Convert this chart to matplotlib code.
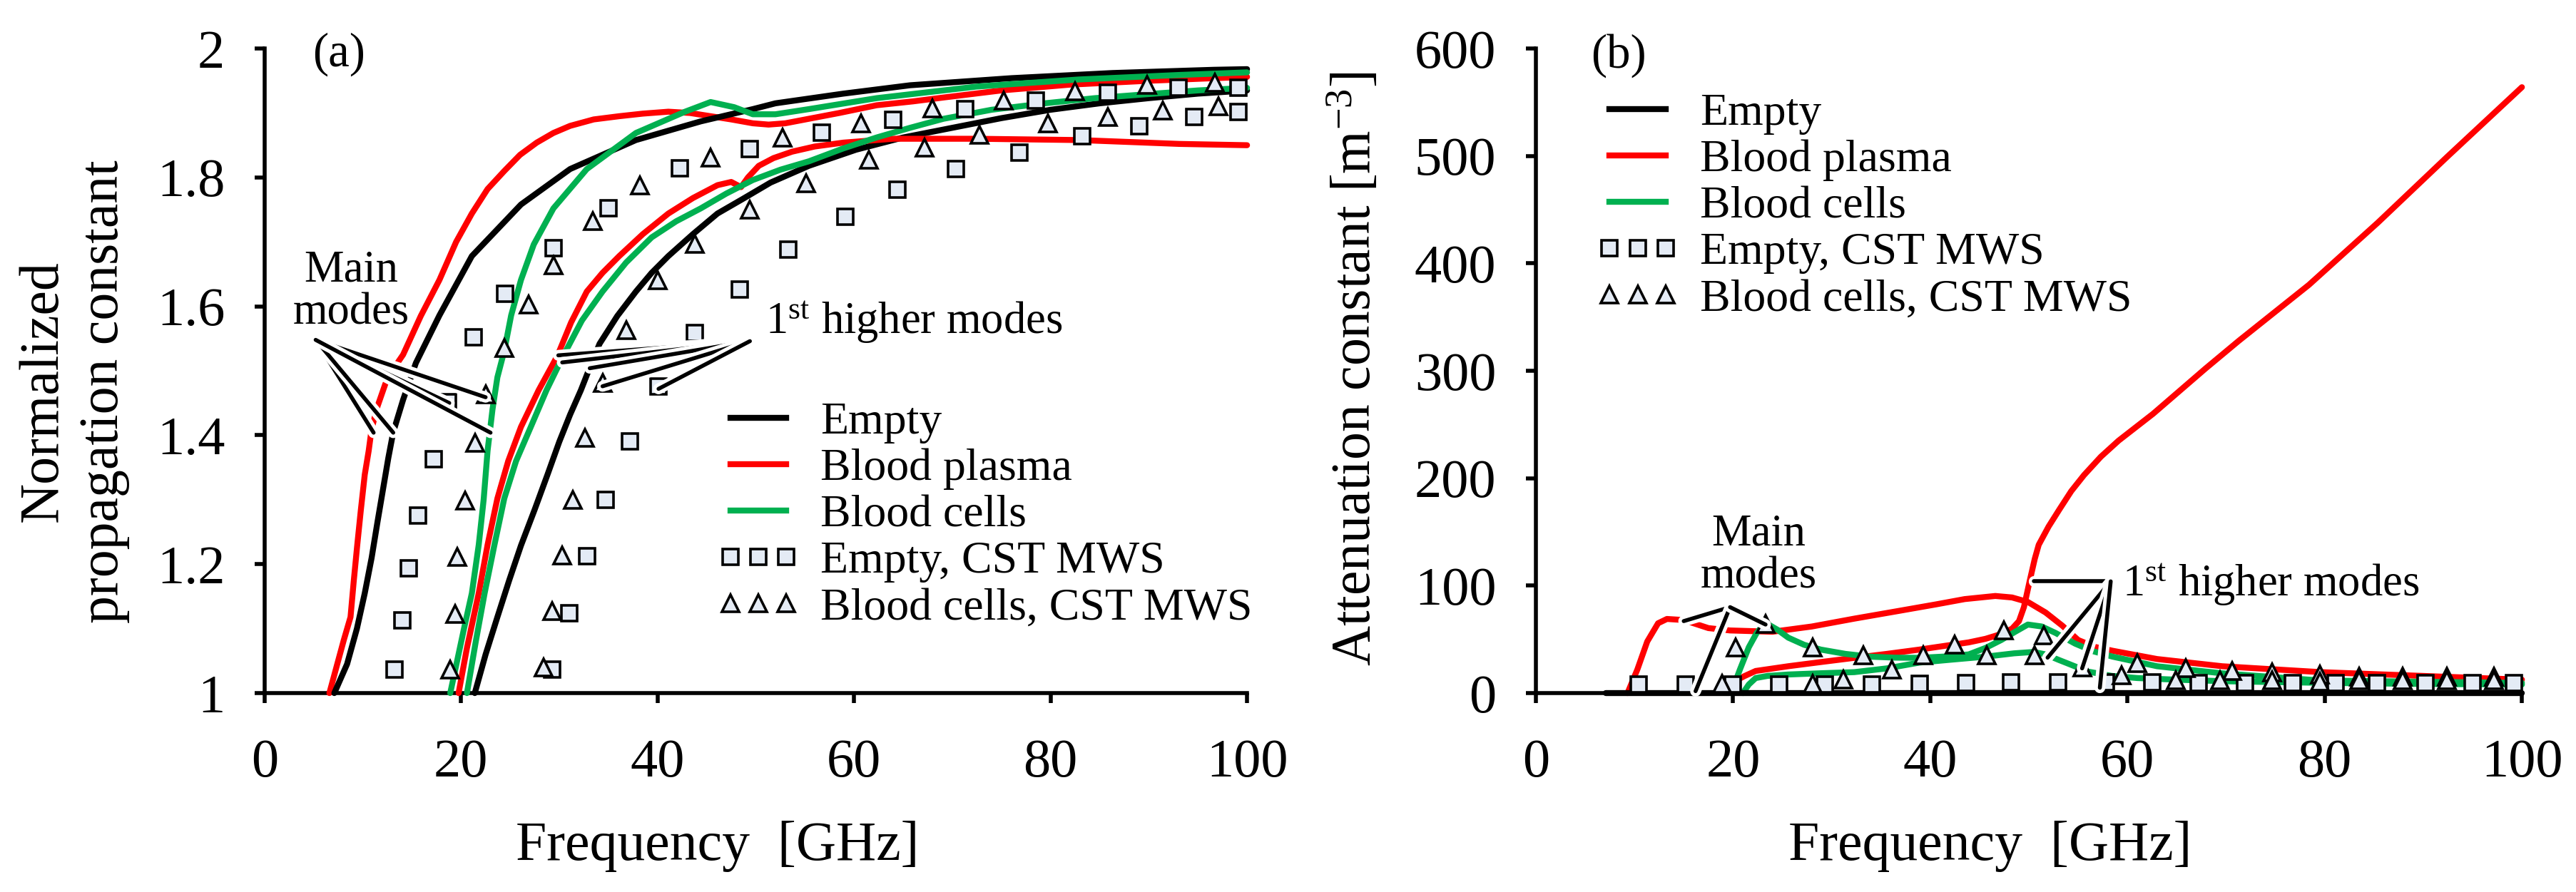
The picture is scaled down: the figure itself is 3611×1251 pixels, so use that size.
import matplotlib.pyplot as plt
import matplotlib.patheffects as pe
from matplotlib.lines import Line2D

plt.rcParams['font.family'] = ['Liberation Serif', 'DejaVu Serif']
plt.rcParams['mathtext.fontset'] = 'custom'
plt.rcParams['mathtext.rm'] = 'Liberation Serif'
plt.rcParams['mathtext.it'] = 'Liberation Serif:italic'

RED = '#FF0000'
GREEN = '#00B050'
FILL = '#E4EBF5'

# ---------------- (a) normalized propagation constant ----------------
# main modes
f_empty_main = [7.1, 8.4, 9.4, 10.2, 10.9, 11.5, 12.1, 12.6, 13.1, 14.1, 15.4, 17.8, 21.1, 26.1, 31.1, 37.8, 44.4, 49.7, 52.0, 58.9, 65.7, 76.0, 86.3, 96.6, 100]
b_empty_main = [1.0, 1.045, 1.1, 1.155, 1.21, 1.266, 1.32, 1.365, 1.405, 1.455, 1.512, 1.586, 1.678, 1.758, 1.813, 1.858, 1.887, 1.906, 1.915, 1.93, 1.943, 1.954, 1.962, 1.967, 1.968]
f_plasma_main = [6.6, 7.4, 8.06, 8.75, 9.08, 9.43, 9.8, 10.2, 10.6, 10.9, 11.5, 12.3, 13.2, 14.1, 15.9, 17.8, 19.5, 21.1, 22.7, 24.4, 26.0, 27.7, 29.4, 31.1, 33.5, 36.1, 38.5, 41.1, 43.3, 45.4, 47.5, 49.7, 51.3, 53.0, 55.4, 58.5, 62.3, 66.0, 69.1, 75.0, 82.0, 90.0, 100]
b_plasma_main = [1.0, 1.045, 1.082, 1.118, 1.174, 1.229, 1.284, 1.339, 1.376, 1.41, 1.445, 1.48, 1.505, 1.525, 1.585, 1.641, 1.70, 1.744, 1.782, 1.81, 1.835, 1.854, 1.869, 1.88, 1.89, 1.895, 1.899, 1.902, 1.90, 1.895, 1.89, 1.884, 1.882, 1.884, 1.891, 1.90, 1.912, 1.918, 1.924, 1.935, 1.944, 1.95, 1.956]
f_cells_main = [18.9, 19.6, 20.3, 21.1, 21.8, 22.3, 22.7, 23.2, 23.7, 24.4, 25.1, 26.1, 27.4, 29.4, 32.8, 37.8, 42.8, 45.4, 47.8, 49.7, 52.0, 55.4, 62.3, 72.5, 82.9, 93.1, 100]
b_cells_main = [1.0, 1.05, 1.10, 1.155, 1.23, 1.30, 1.376, 1.44, 1.49, 1.531, 1.586, 1.641, 1.696, 1.752, 1.813, 1.869, 1.902, 1.917, 1.909, 1.898, 1.898, 1.906, 1.923, 1.941, 1.952, 1.959, 1.963]
# 1st higher modes
f_empty_high = [21.4, 22.5, 23.7, 24.9, 26.1, 27.5, 28.8, 30.0, 31.1, 32.2, 33.1, 34.1, 35.9, 37.8, 39.4, 41.1, 43.6, 46.1, 48.6, 51.5, 55.4, 60.2, 65.0, 70.0, 75.0, 80.0, 85.0, 90.0, 95.0, 100]
b_empty_high = [1.0, 1.06, 1.118, 1.175, 1.229, 1.285, 1.339, 1.39, 1.432, 1.47, 1.505, 1.542, 1.585, 1.623, 1.652, 1.678, 1.712, 1.744, 1.766, 1.792, 1.818, 1.843, 1.862, 1.877, 1.892, 1.905, 1.915, 1.923, 1.93, 1.935]
f_plasma_high = [19.75, 20.6, 21.8, 22.7, 23.7, 24.8, 26.1, 27.9, 29.8, 31.2, 32.8, 34.4, 36.1, 38.5, 41.1, 43.6, 46.1, 47.5, 48.5, 49.2, 50.3, 51.8, 53.7, 56.0, 58.9, 64.0, 72.5, 82.9, 93.1, 100]
b_plasma_high = [1.0, 1.07, 1.155, 1.23, 1.302, 1.36, 1.413, 1.47, 1.523, 1.575, 1.623, 1.652, 1.678, 1.712, 1.744, 1.768, 1.788, 1.793, 1.785, 1.80, 1.818, 1.83, 1.84, 1.848, 1.854, 1.86, 1.86, 1.858, 1.852, 1.85]
f_cells_high = [20.6, 21.5, 22.4, 23.4, 24.4, 25.6, 27.1, 28.7, 30.4, 32.3, 34.4, 36.8, 39.4, 41.9, 44.4, 47.0, 49.7, 52.5, 55.4, 58.9, 62.3, 65.7, 69.1, 74.0, 79.4, 84.5, 89.7, 95.0, 100]
b_cells_high = [1.0, 1.08, 1.155, 1.23, 1.302, 1.36, 1.413, 1.47, 1.523, 1.578, 1.623, 1.668, 1.707, 1.732, 1.752, 1.775, 1.796, 1.812, 1.825, 1.845, 1.862, 1.877, 1.891, 1.905, 1.915, 1.923, 1.929, 1.935, 1.939]
# CST MWS points
sq_main_f = [13.2, 14.0, 14.7, 15.6, 17.2, 18.7, 21.3, 24.5, 29.4, 35.0, 42.3, 49.4, 56.7, 64.0, 71.3, 78.5, 85.8, 93.0, 99.1]
sq_main_b = [1.037, 1.113, 1.194, 1.276, 1.363, 1.451, 1.552, 1.619, 1.690, 1.752, 1.814, 1.844, 1.869, 1.889, 1.906, 1.919, 1.931, 1.939, 1.939]
sq_high_f = [29.3, 31.0, 32.8, 34.7, 37.2, 40.1, 43.8, 48.4, 53.3, 59.1, 64.4, 70.4, 76.8, 83.2, 89.0, 94.6, 99.1]
sq_high_b = [1.036, 1.124, 1.212, 1.300, 1.390, 1.476, 1.559, 1.626, 1.688, 1.739, 1.781, 1.813, 1.839, 1.864, 1.879, 1.894, 1.902]
tr_main_f = [18.9, 19.4, 19.6, 20.4, 21.4, 22.5, 24.4, 26.9, 29.4, 33.4, 38.2, 45.4, 52.7, 60.7, 68.0, 75.2, 82.5, 89.8, 96.7]
tr_main_b = [1.036, 1.123, 1.211, 1.299, 1.388, 1.463, 1.535, 1.603, 1.664, 1.732, 1.788, 1.831, 1.862, 1.884, 1.907, 1.919, 1.934, 1.944, 1.947]
tr_high_f = [28.4, 29.3, 30.3, 31.4, 32.6, 34.4, 36.8, 40.0, 43.8, 49.4, 55.1, 61.5, 67.2, 72.8, 79.7, 85.8, 91.4, 97.1]
tr_high_b = [1.04, 1.127, 1.214, 1.30, 1.396, 1.481, 1.563, 1.641, 1.697, 1.75, 1.791, 1.827, 1.846, 1.866, 1.884, 1.894, 1.904, 1.911]

# ---------------- (b) attenuation constant ----------------
fa_empty = [7.1, 100]
a_empty = [0, 0]
fa_plasma_main = [9.3, 10.3, 11.3, 12.4, 13.3, 15.0, 17.5, 19.7, 24.0, 28.0, 32.3, 36.5, 40.6, 43.5, 46.6, 48.3, 49.9, 51.7, 53.4, 55.0, 56.7, 58.5, 63.0, 69.6, 79.6, 89.6, 100]
a_plasma_main = [0, 22, 48, 65, 69, 68, 60.5, 58.3, 57.1, 62, 69.3, 76, 82.6, 87.5, 90.4, 89, 84.8, 75, 62.7, 49.4, 43, 39.4, 31.7, 25, 19.5, 16.1, 12.5]
fa_plasma_high = [20.3, 21.2, 22.3, 25.6, 29.0, 32.3, 35.6, 38.9, 41.5, 43.9, 45.6, 47.2, 48.3, 49.0, 49.5, 50.1, 50.6, 51.0, 52.0, 53.1, 54.3, 55.6, 57.3, 59.1, 62.6, 67.9, 71.3, 78.4, 85.4, 92.4, 100]
a_plasma_high = [11.7, 16, 20.6, 25, 29, 32.8, 36.5, 40.5, 44, 47.2, 50.5, 55, 60, 67, 80, 105, 125, 138, 155, 171, 188, 203, 220, 235, 260, 302, 328, 380, 438, 499, 564]
fa_cells_main = [19.8, 20.7, 21.6, 22.4, 23.0, 23.6, 24.5, 25.6, 27.2, 28.9, 31.4, 33.9, 36.4, 38.9, 41.4, 43.9, 45.6, 47.2, 48.6, 49.9, 51.3, 52.7, 54.7, 56.5, 58.5, 63.0, 69.6, 79.6, 89.6, 100]
a_cells_main = [0, 22, 42.7, 56, 62.7, 63.8, 59, 51.6, 45, 40.5, 36.5, 33.9, 33, 32.8, 34, 36, 42, 49.4, 57, 63.8, 62, 56, 46, 39, 33.9, 25, 18.4, 11.7, 10.6, 9.5]
fa_cells_high = [21.0, 21.6, 22.3, 23.5, 25.6, 29.0, 32.3, 35.6, 38.9, 42.0, 45.6, 48.5, 50.5, 51.7, 53.0, 54.1, 56.0, 58.4, 61.0, 64.9, 70.0, 80.0, 90.0, 100]
a_cells_high = [0, 8, 14, 16, 17.3, 18.5, 19.5, 23, 28.4, 31, 33.9, 37, 38.3, 36, 31, 27, 20, 16, 14, 12.5, 11, 9.5, 8.5, 8]
sqa_f = [10.4, 15.2, 20.0, 24.7, 29.3, 34.1, 38.9, 43.6, 48.2, 53.0, 57.8, 62.5, 67.2, 71.9, 76.8, 81.1, 85.3, 90.2, 95.0, 99.2]
sqa_a = [8, 8, 8, 8, 8, 8, 8.5, 9.5, 10, 10, 10, 10, 9, 9, 9, 9, 9, 9, 9, 9]
tra_main_f = [20.3, 23.3, 28.1, 33.2, 39.3, 42.5, 47.5, 51.5, 55.4, 61.0, 65.9, 70.6, 74.7, 79.5, 83.5, 87.9, 92.4, 97.2]
tra_main_a = [42.7, 64.5, 42.7, 35, 35, 45.4, 58.3, 53.8, 23.9, 27.7, 23.3, 20.6, 19.5, 17.3, 15, 15, 15, 15]
tra_high_f = [18.9, 28.1, 31.2, 36.1, 45.7, 50.6, 59.4, 64.9, 69.4, 74.7, 79.5, 83.5, 87.9, 92.4, 97.2]
tra_high_a = [8.4, 8.4, 12.8, 21.7, 35, 35, 16.6, 12.2, 12.2, 11.7, 10.6, 11.7, 11.7, 11.7, 11.7]

# callout lines: vertex, then the points they touch
main_a_vertex = (5.2, 1.548)
main_a_targets = [(11.1, 1.404), (13.1, 1.404), (18.8, 1.45), (22.5, 1.459), (23.0, 1.404)]
high_a_vertex = (49.4, 1.546)
high_a_targets = [(29.9, 1.524), (30.3, 1.513), (33.1, 1.504), (34.4, 1.476), (40.1, 1.472)]
main_b_vertex = (19.7, 80)
main_b_targets = [(15.0, 67), (16.2, 1.8), (23.3, 63.8)]
high_b_vertex = (58.3, 104)
high_b_targets = [(50.5, 104), (51.9, 33), (55.4, 23), (57.2, 5)]

LW = 6
halo = [pe.Stroke(linewidth=11, foreground='white'), pe.Normal()]

fig = plt.figure(figsize=(36.11, 12.51), dpi=100)
ax1 = fig.add_axes([0.1027, 0.2230, 0.3814, 0.7226])
ax2 = fig.add_axes([0.5962, 0.2230, 0.3828, 0.7226])


def curve(ax, x, y, c):
    ax.plot(x, y, color=c, lw=LW, solid_capstyle='round', solid_joinstyle='round', clip_on=False, zorder=2)


def points(ax, x, y, m, ms):
    ax.plot(x, y, linestyle='none', marker=m, ms=ms, mfc=FILL, mec='black', mew=2.6, clip_on=False, zorder=3)


def callout(ax, vertex, targets):
    for tx, ty in targets:
        ax.plot([vertex[0], tx], [vertex[1], ty], color='black', lw=4, solid_capstyle='round',
                clip_on=False, zorder=4, path_effects=halo)


# (a)
curve(ax1, f_plasma_main, b_plasma_main, RED)
curve(ax1, f_empty_main, b_empty_main, 'black')
curve(ax1, f_cells_main, b_cells_main, GREEN)
curve(ax1, f_empty_high, b_empty_high, 'black')
curve(ax1, f_plasma_high, b_plasma_high, RED)
curve(ax1, f_cells_high, b_cells_high, GREEN)
points(ax1, sq_main_f, sq_main_b, 's', 16)
points(ax1, sq_high_f, sq_high_b, 's', 16)
points(ax1, tr_main_f, tr_main_b, '^', 17)
points(ax1, tr_high_f, tr_high_b, '^', 17)
callout(ax1, main_a_vertex, main_a_targets)
callout(ax1, high_a_vertex, high_a_targets)
ax1.text(8.8, 1.622, 'Main\nmodes', fontsize=45, ha='center', va='center', linespacing=1.05)
ax1.text(51.0, 1.557, '1$^{\\mathrm{st}}$ higher modes', fontsize=45, ha='left', va='baseline')

# (b)
curve(ax2, fa_plasma_main, a_plasma_main, RED)
curve(ax2, fa_plasma_high, a_plasma_high, RED)
curve(ax2, fa_cells_main, a_cells_main, GREEN)
curve(ax2, fa_cells_high, a_cells_high, GREEN)
curve(ax2, fa_empty, a_empty, 'black')
points(ax2, sqa_f, sqa_a, 's', 16)
points(ax2, tra_main_f, tra_main_a, '^', 17)
points(ax2, tra_high_f, tra_high_a, '^', 17)
callout(ax2, main_b_vertex, main_b_targets)
callout(ax2, high_b_vertex, high_b_targets)
ax2.text(22.6, 128, 'Main\nmodes', fontsize=45, ha='center', va='center', linespacing=1.05)
ax2.text(59.5, 90, '1$^{\\mathrm{st}}$ higher modes', fontsize=45, ha='left', va='baseline')

# legend handles shared by both panels
handles = [Line2D([], [], color='black', lw=LW),
           Line2D([], [], color=RED, lw=LW),
           Line2D([], [], color=GREEN, lw=LW),
           Line2D([], [], linestyle='none', marker='s', ms=16, mfc=FILL, mec='black', mew=2.6),
           Line2D([], [], linestyle='none', marker='^', ms=17, mfc=FILL, mec='black', mew=2.6)]
labels = ['Empty', 'Blood plasma', 'Blood cells', 'Empty, CST MWS', 'Blood cells, CST MWS']

for ax, anchor in [(ax1, (0.46, 0.452)), (ax2, (0.061, 0.931))]:
    ax.legend(handles, labels, loc='upper left', bbox_to_anchor=anchor, frameon=False, fontsize=46,
              numpoints=3, handlelength=1.83, handletextpad=0.45, labelspacing=0.1,
              borderpad=0, borderaxespad=0)

ax1.set_xlim(0, 100)
ax1.set_ylim(1, 2)
ax1.set_yticks([1, 1.2, 1.4, 1.6, 1.8, 2])
ax1.set_yticklabels(['1', '1.2', '1.4', '1.6', '1.8', '2'])
ax2.set_xlim(0, 100)
ax2.set_ylim(0, 600)
ax2.set_yticks([0, 100, 200, 300, 400, 500, 600])

for ax in (ax1, ax2):
    ax.set_xticks([0, 20, 40, 60, 80, 100])
    for s in ['top', 'right']:
        ax.spines[s].set_visible(False)
    for s in ['left', 'bottom']:
        ax.spines[s].set_linewidth(4)
        ax.spines[s].set_zorder(1)
    ax.tick_params(direction='out', length=10, width=4, labelsize=55)
    ax.tick_params(axis='x', pad=36)
    ax.tick_params(axis='y', pad=30)
    ax.set_xlabel('Frequency  [GHz]', fontsize=56)
    ax.xaxis.label.set_va('center')
    ax.xaxis.set_label_coords(0.461, -0.238)

ax1.set_ylabel('Normalized\npropagation constant', fontsize=56, linespacing=1.25)
ax1.yaxis.label.set_va('center')
ax1.yaxis.set_label_coords(-0.194, 0.468)
ax2.set_ylabel('Attenuation constant [m$^{-3}$]', fontsize=56)
ax2.yaxis.label.set_va('center')
ax2.yaxis.set_label_coords(-0.183, 0.503)

ax1.text(0.049, 0.991, '(a)', transform=ax1.transAxes, fontsize=48, ha='left', va='center')
ax2.text(0.056, 0.989, '(b)', transform=ax2.transAxes, fontsize=48, ha='left', va='center')

plt.savefig('out.png', dpi=100)
